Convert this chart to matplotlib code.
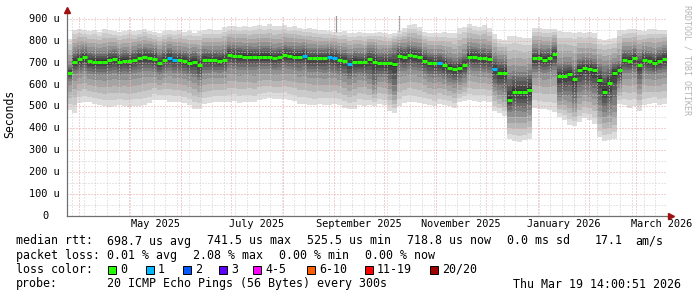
import numpy as np
import pandas as pd
import matplotlib
matplotlib.use("Agg")
import matplotlib.pyplot as plt
import matplotlib.dates as mdates
from matplotlib.patches import Rectangle

# graph covers the last 360 days, one column every 3 days
end_time = pd.Timestamp("2026-03-19 14:00:51")
start_time = end_time - pd.Timedelta(days=360)
step_days = 3

# median rtt per column (us)
median_rtt = [
    655, 705, 715, 725, 706, 705, 705, 705, 712, 715,
    705, 710, 708, 712, 723, 725, 722, 718, 698, 712,
    722, 712, 712, 708, 700, 705, 688, 713, 712, 712,
    710, 712, 736, 731, 729, 728, 728, 726, 728, 728,
    728, 721, 726, 734, 730, 728, 728, 732, 720, 720,
    720, 720, 724, 720, 712, 708, 693, 705, 702, 702,
    715, 705, 697, 699, 697, 695, 732, 725, 735, 730,
    725, 710, 700, 698, 697, 690, 678, 670, 678, 690,
    728, 725, 722, 720, 716, 670, 652, 655, 528, 568,
    565, 565, 575, 720, 722, 714, 720, 738, 640, 640,
    650, 625, 668, 675, 672, 665, 620, 568, 608, 655,
    665, 712, 710, 720, 690, 712, 708, 700, 710, 718,
]

# fastest ping per column (us)
rtt_min = [
    485, 470, 515, 520, 518, 512, 505, 500, 498, 500,
    505, 500, 498, 502, 500, 505, 515, 530, 530, 528,
    522, 520, 518, 515, 505, 490, 488, 510, 515, 520,
    522, 518, 520, 525, 515, 520, 522, 518, 530, 535,
    538, 535, 532, 535, 530, 525, 512, 510, 508, 505,
    510, 508, 505, 510, 505, 495, 490, 488, 505, 500,
    505, 500, 510, 505, 480, 472, 500, 515, 520, 518,
    515, 512, 505, 500, 510, 505, 500, 495, 520, 525,
    528, 525, 522, 525, 520, 480, 470, 455, 350, 340,
    338, 345, 352, 495, 490, 488, 485, 475, 450, 440,
    415, 410, 430, 445, 440, 420, 360, 340, 345, 350,
    510, 505, 495, 500, 480, 505, 510, 515, 505, 510,
]

# lower quartile of the 20 pings (us)
rtt_q1 = [
    615, 645, 650, 660, 645, 642, 640, 638, 645, 648,
    640, 645, 642, 648, 655, 658, 658, 655, 640, 650,
    660, 650, 650, 645, 635, 630, 615, 648, 650, 652,
    650, 652, 672, 668, 665, 665, 665, 662, 668, 670,
    670, 662, 665, 672, 668, 665, 660, 665, 655, 652,
    652, 650, 655, 650, 642, 635, 620, 632, 640, 638,
    620, 590, 632, 630, 600, 565, 660, 660, 668, 665,
    658, 645, 632, 628, 630, 622, 610, 602, 610, 625,
    665, 660, 658, 655, 650, 585, 570, 560, 470, 475,
    472, 470, 480, 655, 655, 648, 652, 665, 540, 545,
    540, 510, 560, 570, 565, 555, 500, 470, 480, 500,
    600, 650, 648, 655, 600, 650, 645, 640, 648, 655,
]

# upper quartile of the 20 pings (us)
rtt_q3 = [
    690, 755, 765, 772, 758, 755, 755, 755, 762, 765,
    755, 760, 758, 762, 772, 775, 772, 768, 750, 762,
    772, 762, 762, 758, 752, 758, 745, 763, 762, 762,
    760, 765, 785, 782, 780, 778, 778, 776, 778, 780,
    780, 772, 776, 785, 780, 778, 778, 782, 770, 770,
    770, 770, 774, 772, 762, 760, 748, 756, 752, 752,
    768, 770, 750, 752, 755, 770, 780, 775, 785, 780,
    775, 760, 750, 748, 748, 742, 730, 722, 728, 742,
    778, 775, 772, 770, 766, 735, 720, 722, 660, 665,
    662, 662, 670, 770, 772, 765, 770, 785, 700, 705,
    705, 690, 720, 728, 725, 718, 700, 690, 695, 705,
    712, 762, 760, 770, 745, 762, 758, 752, 760, 768,
]

# slowest ping per column (us)
rtt_max = [
    810, 850, 852, 848, 845, 850, 842, 855, 848, 845,
    840, 845, 850, 845, 848, 855, 845, 840, 838, 845,
    848, 845, 850, 842, 845, 838, 845, 850, 852, 848,
    850, 862, 868, 870, 865, 868, 865, 870, 872, 868,
    875, 870, 868, 872, 865, 870, 860, 855, 858, 855,
    850, 848, 845, 842, 840, 845, 838, 835, 840, 835,
    838, 835, 840, 835, 830, 838, 845, 860, 872, 875,
    865, 840, 835, 838, 835, 840, 838, 835, 858, 865,
    878, 870, 865, 872, 860, 830, 810, 805, 820, 822,
    818, 815, 812, 858, 860, 855, 852, 855, 845, 842,
    840, 838, 842, 835, 840, 838, 810, 805, 808, 812,
    850, 848, 855, 852, 850, 845, 852, 855, 848, 850,
]

# single slow pings sticking out above the smoke
spike_times = ["2025-09-02 06:00", "2025-10-10 02:00"]
spike_values = [925, 925]

# lost pings per column (out of 20)
loss = [
    0, 0, 0, 0, 0, 0, 0, 0, 0, 0,
    0, 0, 0, 0, 0, 0, 0, 0, 0, 0,
    1, 1, 0, 0, 0, 0, 0, 0, 0, 0,
    0, 0, 0, 0, 0, 0, 0, 0, 0, 0,
    0, 0, 0, 0, 0, 0, 0, 1, 0, 0,
    0, 0, 1, 1, 0, 0, 1, 0, 0, 0,
    0, 0, 0, 0, 0, 0, 0, 0, 0, 0,
    0, 0, 0, 0, 1, 0, 0, 0, 0, 0,
    0, 0, 0, 0, 0, 1, 0, 0, 0, 0,
    0, 0, 0, 0, 0, 0, 0, 0, 0, 0,
    0, 0, 0, 0, 0, 0, 0, 0, 0, 0,
    0, 0, 0, 0, 0, 0, 0, 0, 0, 0,
]

loss_labels = ["0", "1", "2", "3", "4-5", "6-10", "11-19", "20/20"]
loss_colors = ["#26ff00", "#00b8ff", "#0059ff", "#5e00ff",
               "#ff00ff", "#ff5e00", "#ff0000", "#a00000"]

y_ticks = [0, 100, 200, 300, 400, 500, 600, 700, 800, 900]
x_label_months = ["2025-05", "2025-07", "2025-09", "2025-11", "2026-01", "2026-03"]
x_labels = ["May 2025", "July 2025", "September 2025", "November 2025",
            "January 2026", "March 2026"]

MONO = "DejaVu Sans Mono"
W, H = 697, 297


def fx(x):
    return x / W


def fy(y):
    return 1 - y / H


fig = plt.figure(figsize=(W / 100, H / 100), dpi=100)
fig.patch.set_facecolor("white")
ax = fig.add_axes([fx(67), fy(215.7), 600 / W, 200 / H])
for s in ax.spines.values():
    s.set_visible(False)

times = pd.date_range(start_time, periods=len(median_rtt), freq=f"{step_days}D")
x0 = mdates.date2num(times.to_pydatetime())
xmin = mdates.date2num(start_time.to_pydatetime())
xmax = mdates.date2num(end_time.to_pydatetime())

# smoke: 20 sorted pings per column, shaded from outside in
qpos = np.linspace(0, 1, 20)
pings = np.array([np.interp(qpos, [0, 0.25, 0.5, 0.75, 1], [a, b, c, d, e])
                  for a, b, c, d, e in zip(rtt_min, rtt_q1, median_rtt, rtt_q3, rtt_max)])
half = 10
for ibot in range(1, half + 1):
    g = int(190 / half * (half - ibot)) + 50
    lo = pings[:, ibot - 1]
    hi = pings[:, 20 - ibot]
    ax.bar(x0, hi - lo, width=step_days, bottom=lo, align="edge",
           color=f"#{g:02x}{g:02x}{g:02x}", linewidth=0, antialiased=False, zorder=1)

# spikes: thin single-pixel columns
sp_x = mdates.date2num(pd.to_datetime(spike_times).to_pydatetime())
sp_i = ((sp_x - xmin) // step_days).astype(int)
ax.vlines(sp_x, np.array(rtt_max)[sp_i], spike_values, color="#9a9a9a", lw=0.9, zorder=1)

# grid
dot = (0, (1, 2))
for d in pd.date_range(start_time, end_time, freq="W-THU"):
    ax.axvline(mdates.date2num(d.to_pydatetime()), color="#cfcfcf", lw=0.72, ls=dot, zorder=2)
for v in range(50, 901, 100):
    ax.axhline(v, color="#cfcfcf", lw=0.72, ls=dot, zorder=2)
for d in pd.date_range("2025-04-01", "2026-03-01", freq="MS"):
    ax.axvline(mdates.date2num(d.to_pydatetime()), color="#eaa0a0", lw=0.72, ls=dot, zorder=2)
for v in y_ticks[1:]:
    ax.axhline(v, color="#eaa0a0", lw=0.72, ls=dot, zorder=2)

# median, one dash per column coloured by loss
med = np.array(median_rtt)
ls_arr = np.array(loss)
for k, col in enumerate(loss_colors):
    sel = ls_arr == k
    if sel.any():
        ax.hlines(med[sel], x0[sel], x0[sel] + step_days, color=col, lw=2.2,
                  zorder=3, capstyle="butt")

ax.set_xlim(xmin, xmax)
ax.set_ylim(0, 915)

# axes with arrows
ax.plot([0, 0], [0, 1.025], transform=ax.transAxes, color="#707070", lw=0.9, clip_on=False, zorder=5)
ax.plot([0, 1.005], [0, 0], transform=ax.transAxes, color="#707070", lw=0.9, clip_on=False, zorder=5)
ax.plot([0], [1.03], transform=ax.transAxes, marker="^", color="#a01010", ms=4, clip_on=False, zorder=6)
ax.plot([1.007], [0], transform=ax.transAxes, marker=">", color="#a01010", ms=4, clip_on=False, zorder=6)

# ticks
ax.set_yticks([])
label_pos = []
for m in x_label_months:
    ms = pd.Timestamp(m + "-01")
    label_pos.append(mdates.date2num((ms + (ms + pd.offsets.MonthBegin(1) - ms) / 2).to_pydatetime()))
ax.set_xticks(label_pos)
ax.set_xticklabels(x_labels, family=MONO, fontsize=7.4)
ax.tick_params(axis="x", length=0, pad=2.5)
ytrans = ax.get_yaxis_transform()
for v in y_ticks:
    if v == 0:
        ax.text((48.5 - 67) / 600, v, "0", transform=ytrans, ha="right", va="center",
                family=MONO, fontsize=7.4)
    else:
        ax.text((60 - 67) / 600, v, f"{v} u", transform=ytrans, ha="right", va="center",
                family=MONO, fontsize=7.4)

fig.text(fx(10), fy(114), "Seconds", rotation=90, ha="center", va="center",
         family=MONO, fontsize=8.3)
fig.text(fx(687), fy(5), "RRDTOOL / TOBI OETIKER", rotation=270, ha="center", va="top",
         family=MONO, fontsize=6, color="#b4b4b4")

# legend block
rows = [
    (244.5, [(16, "median rtt:"), (107, "698.7 us avg"), (207, "741.5 us max"),
             (307, "525.5 us min"), (407, "718.8 us now"), (507, "0.0 ms sd"),
             (595, "17.1"), (635, "am/s")]),
    (259, [(16, "packet loss:"), (107, "0.01 % avg"), (193, "2.08 % max"),
           (279, "0.00 % min"), (365, "0.00 % now")]),
    (273, [(16, "loss color:")]),
    (287.5, [(16, "probe:"), (107, "20 ICMP Echo Pings (56 Bytes) every 300s"),
             (513, "Thu Mar 19 14:00:51 2026")]),
]
for yb, parts in rows:
    for xp, s in parts:
        fig.text(fx(xp), fy(yb), s, ha="left", va="baseline", family=MONO, fontsize=8.4)

box_x = [108, 146, 183, 219, 253, 307, 365, 430]
for bx, lab, col in zip(box_x, loss_labels, loss_colors):
    fig.patches.append(Rectangle((fx(bx), fy(273.5)), 8 / W, 8 / H, transform=fig.transFigure,
                                 facecolor=col, edgecolor="black", lw=0.7))
    fig.text(fx(bx + 12), fy(273), lab, ha="left", va="baseline", family=MONO, fontsize=8.4)

fig.savefig("out.png", dpi=100, facecolor="white")
